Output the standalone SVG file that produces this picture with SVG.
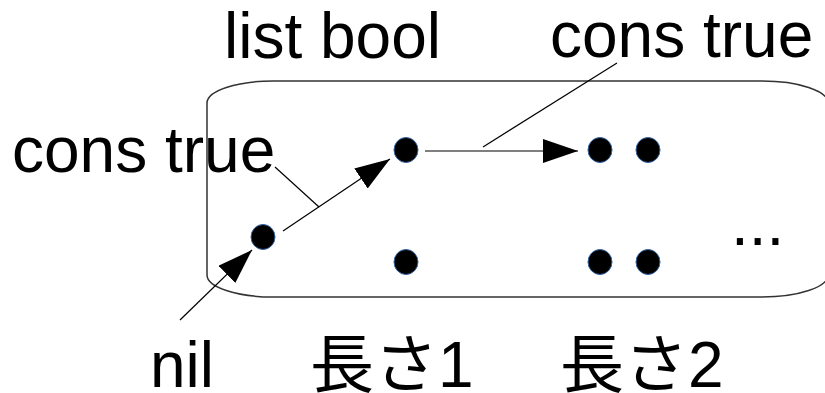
<svg xmlns="http://www.w3.org/2000/svg" width="825" height="393" viewBox="0 0 825 393">
<style>
.t{font-family:"Liberation Sans","Noto Sans CJK JP",sans-serif;font-size:64px;fill:#000}
.dot{fill:#000;stroke:#3465a4;stroke-width:1}
.ln{stroke:#000;stroke-width:1.2;fill:none}
</style>
<defs>
<marker id="ah" markerUnits="userSpaceOnUse" markerWidth="38" markerHeight="26" refX="35" refY="12" orient="auto">
<path d="M0,0 L35,12 L0,24 Z" fill="#000"/>
</marker>
</defs>
<rect id="set" x="207" y="81" width="621" height="216" rx="66" ry="22" fill="none" stroke="#333" stroke-width="1.5"/>
<g id="connectors">
<line class="ln" x1="180" y1="320" x2="252" y2="250" marker-end="url(#ah)"/>
<line class="ln" x1="283" y1="231" x2="390" y2="159" marker-end="url(#ah)"/>
<line class="ln" x1="425" y1="151" x2="578" y2="151" marker-end="url(#ah)"/>
<line class="ln" x1="275" y1="167" x2="319" y2="207"/>
<line class="ln" x1="617" y1="63" x2="483" y2="147"/>
</g>
<g id="n0"><ellipse class="dot" cx="263" cy="237" rx="12" ry="12.5"/></g>
<g id="n1a"><ellipse class="dot" cx="406" cy="150" rx="12" ry="12.5"/></g>
<g id="n1b"><ellipse class="dot" cx="406" cy="262" rx="12" ry="12.5"/></g>
<g id="n2a"><ellipse class="dot" cx="600" cy="150" rx="12" ry="12.5"/></g>
<g id="n2b"><ellipse class="dot" cx="648" cy="150" rx="12" ry="12.5"/></g>
<g id="n2c"><ellipse class="dot" cx="600" cy="262" rx="12" ry="12.5"/></g>
<g id="n2d"><ellipse class="dot" cx="648" cy="262" rx="12" ry="12.5"/></g>
<g id="labels">
<text class="t" x="224" y="58">list bool</text>
<text class="t" x="550" y="57">cons true</text>
<text class="t" x="12" y="172">cons true</text>
<text class="t" x="731" y="245">...</text>
<text class="t" x="150" y="387">nil</text>
<text class="t" x="310" y="387">長さ1</text>
<text class="t" x="560" y="387">長さ2</text>
</g>
</svg>
